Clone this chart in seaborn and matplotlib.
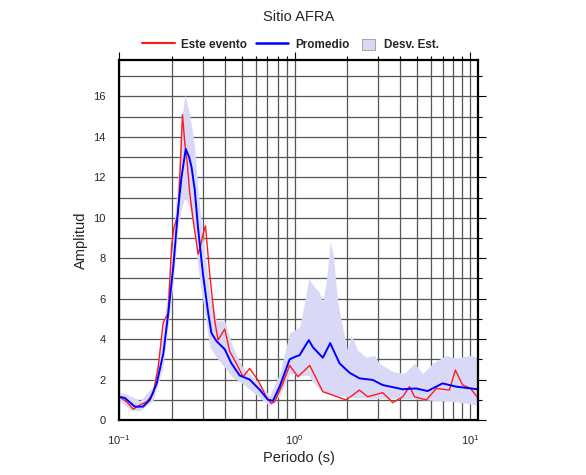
import matplotlib
matplotlib.use("Agg")
from matplotlib import pyplot as plt
from matplotlib.patches import Patch
from matplotlib.lines import Line2D
from matplotlib.ticker import LogLocator, MultipleLocator
import pandas as pd
import seaborn as sns

# promedio (mean spectral ratio)
prom_periodo = [0.100, 0.108, 0.123, 0.137, 0.150, 0.164, 0.179, 0.191, 0.204, 0.217,
                0.227, 0.240, 0.251, 0.259, 0.270, 0.282, 0.301, 0.322, 0.336, 0.359,
                0.400, 0.437, 0.487, 0.555, 0.632, 0.705, 0.753, 0.822, 0.937, 1.023,
                1.067, 1.205, 1.270, 1.448, 1.595, 1.803, 2.053, 2.340, 2.786, 3.175,
                4.120, 4.914, 5.720, 6.960, 8.300, 11.0, 11.1]
prom_amp = [1.15, 1.09, 0.66, 0.66, 1.0, 1.8, 3.3, 5.3, 7.6, 10.4,
            12.0, 13.4, 13.0, 12.5, 11.4, 9.5, 7.2, 5.3, 4.3, 3.9,
            3.5, 2.8, 2.2, 2.0, 1.5, 1.0, 0.95, 1.65, 3.0, 3.15,
            3.2, 3.95, 3.6, 3.08, 3.8, 2.8, 2.34, 2.06, 1.98, 1.73,
            1.52, 1.56, 1.43, 1.81, 1.65, 1.52, 1.5]

# este evento
ev_periodo = [0.1004, 0.1106, 0.1206, 0.1316, 0.1437, 0.1566, 0.1672, 0.1785, 0.1906, 0.1993,
              0.2054, 0.2172, 0.2241, 0.2300, 0.2370, 0.2443, 0.2530, 0.2644, 0.2822, 0.2912,
              0.3013, 0.3109, 0.3288, 0.3511, 0.3667, 0.400, 0.4268, 0.4659, 0.5084, 0.555,
              0.6175, 0.6893, 0.7358, 0.7692, 0.8585, 0.937, 1.0454, 1.2193, 1.448, 1.650,
              1.966, 2.340, 2.607, 3.175, 3.623, 4.13, 4.51, 4.82, 5.63, 6.41,
              7.61, 8.23, 9.05, 10.05, 11.1]
ev_amp = [1.15, 0.9, 0.53, 0.74, 0.9, 1.3, 2.6, 4.8, 5.3, 8.6,
          9.5, 10.2, 12.8, 15.1, 13.7, 12.8, 11.2, 9.9, 8.2, 8.6,
          9.2, 9.6, 7.2, 4.9, 3.95, 4.5, 3.4, 2.8, 2.14, 2.55,
          1.98, 1.15, 0.82, 0.9, 1.81, 2.7, 2.14, 2.7, 1.4, 1.23,
          0.99, 1.48, 1.15, 1.35, 0.86, 1.15, 1.65, 1.15, 0.99, 1.56,
          1.48, 2.47, 1.73, 1.56, 1.07]

# desviacion estandar (banda)
de_periodo = [0.100, 0.1155, 0.1316, 0.156, 0.1778, 0.2027, 0.2163, 0.2276, 0.2371, 0.253,
              0.270, 0.2811, 0.3001, 0.329, 0.359, 0.400, 0.4444, 0.5065, 0.632, 0.721,
              0.822, 0.937, 1.067, 1.140, 1.205, 1.265, 1.387, 1.442, 1.514, 1.595,
              1.666, 1.755, 1.874, 2.0, 2.099, 2.28, 2.556, 2.848, 3.04, 3.62,
              4.217, 4.81, 5.36, 6.11, 7.28, 8.30, 9.87, 11.1]
de_sup = [1.4, 1.2, 0.95, 1.65, 4.3, 8.9, 11.9, 14.8, 16.1, 15.1,
          13.5, 11.5, 9.05, 6.25, 4.9, 4.9, 3.6, 2.6, 1.8, 1.2,
          2.3, 4.3, 4.6, 5.8, 7.0, 6.7, 6.3, 5.8, 6.8, 8.8,
          8.1, 5.9, 4.6, 3.46, 4.2, 3.46, 3.1, 3.2, 2.8, 2.4,
          2.3, 2.8, 2.3, 2.8, 3.2, 3.05, 3.2, 3.1]
de_inf = [1.0, 0.5, 0.45, 0.95, 2.6, 6.6, 9.5, 10.5, 11.0, 10.5,
          9.2, 7.6, 5.9, 3.6, 3.1, 2.6, 2.1, 1.8, 1.1, 0.7,
          1.2, 2.3, 2.2, 2.2, 2.2, 1.9, 1.5, 1.4, 1.3, 1.25,
          1.23, 1.2, 1.18, 1.15, 1.13, 1.1, 1.08, 1.07, 1.07, 1.07,
          1.07, 1.05, 1.0, 0.97, 0.94, 0.9, 0.8, 0.74]

df_prom = pd.DataFrame({"Periodo": prom_periodo, "Amplitud": prom_amp})
df_ev = pd.DataFrame({"Periodo": ev_periodo, "Amplitud": ev_amp})

sns.set_style("white")
plt.rcParams["font.family"] = ["Liberation Sans", "DejaVu Sans"]
plt.rcParams["mathtext.fontset"] = "custom"
plt.rcParams["mathtext.rm"] = "Liberation Sans"
plt.rcParams["mathtext.it"] = "Liberation Sans"

fig = plt.figure(figsize=(5.86, 4.75), dpi=100)
ax = fig.add_axes([0.203, 0.1158, 0.613, 0.7579])

col_band = "#d9d9f7"
ax.fill_between(de_periodo, de_inf, de_sup, color=col_band, linewidth=0, zorder=1)
sns.lineplot(data=df_ev, x="Periodo", y="Amplitud", color="#ff1a1a", linewidth=1.0,
             ax=ax, zorder=3)
sns.lineplot(data=df_prom, x="Periodo", y="Amplitud", color="#0000ff", linewidth=1.4,
             ax=ax, zorder=4)

ax.set_xscale("log")
ax.set_xlim(0.1, 11.1)
ax.set_ylim(0, 17.8)
ax.yaxis.set_major_locator(MultipleLocator(2))
ax.yaxis.set_minor_locator(MultipleLocator(1))
ax.xaxis.set_major_locator(LogLocator(base=10))
ax.xaxis.set_minor_locator(LogLocator(base=10, subs=range(2, 10)))

ax.grid(True, which="both", color="#555555", linewidth=0.9, zorder=2)
for l in ax.get_xgridlines() + ax.get_ygridlines():
    l.set_zorder(2)

for s in ax.spines.values():
    s.set_linewidth(1.6)
    s.set_color("black")
    s.set_zorder(5)

ax.tick_params(which="both", direction="out", top=True, right=True,
               labelsize=8, color="black", width=0.8)
ax.tick_params(which="major", length=6)
ax.tick_params(which="minor", length=3)

ax.set_xlabel("Periodo (s)", fontsize=10.5, labelpad=3)
ax.set_ylabel("Amplitud", fontsize=10.5, labelpad=4)
fig.text(0.509, 0.964, "Sitio AFRA", ha="center", va="center", fontsize=10.5)

# legend: one entry per small legend so each handle gets its own width
leg_items = [
    (Line2D([], [], color="#ff1a1a", linewidth=1.5), "Este evento", 142, 2.8, 0.5),
    (Line2D([], [], color="#0000ff", linewidth=1.8), "Promedio", 256, 2.7, 0.6),
    (Patch(facecolor=col_band, edgecolor="#999999", linewidth=0.6), "Desv. Est.", 362, 1.1, 0.76),
]
for h, lab, xpix, hl, pad in leg_items:
    lg = fig.legend([h], [lab], loc="center left",
                    bbox_to_anchor=(xpix / 586, 1 - 45 / 475), frameon=False,
                    prop={"weight": "bold", "size": 8.5}, handlelength=hl,
                    handleheight=1.1, handletextpad=pad, borderpad=0,
                    borderaxespad=0)

fig.savefig("out.png", dpi=100)
